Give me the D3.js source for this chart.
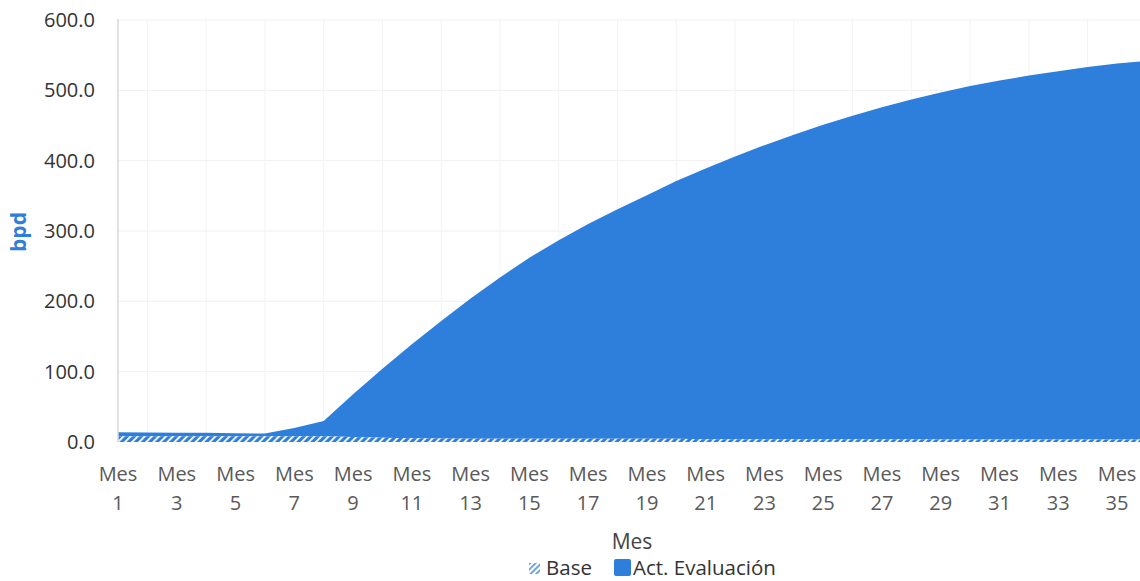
<!DOCTYPE html>
<html>
<head>
<meta charset="utf-8">
<script src="https://cdn.jsdelivr.net/npm/d3@7/dist/d3.min.js"></script>
<style>
  html, body { margin: 0; padding: 0; background: #fff; }
  svg { display: block; font-family: "Open Sans", "Noto Sans", sans-serif; }
</style>
</head>
<body>
<svg id="chart" width="1140" height="581"></svg>
<script>
// ---- data ----
const months = [1,2,3,4,5,6,7,8,9,10,11,12,13,14,15,16,17,18,19,20,21,22,23,24,25,26,27,28,29,30,31,32,33,34,35,36];
const baseValues = [8,8,8,8,8,8,8,8,7,6,5.5,5,4.5,4.5,4.5,4.5,4.5,4.5,4.5,4.5,4,4,4,4,4,4,4,4,3.5,3.5,3.5,3.5,3.5,3.5,3.5,3.5];
const actValues = [6,5.5,5,5,4.5,4,12,22,61,98,133.5,167,199.5,229.5,257.5,282.5,305.5,326.5,346.5,366.5,385,402,418,433,447,460,472,483,493.5,502.5,510.5,517.5,523.5,529.5,534.5,538.5];
const yTicks = [0,100,200,300,400,500,600];
const seriesNames = ["Base", "Act. Evaluación"];
const xTitle = "Mes";
const yTitle = "bpd";
const catPrefix = "Mes";

// ---- layout ----
const svg = d3.select("#chart");
const blue = "#2E7EDC";
const x = d3.scalePoint().domain(months).range([118, 1146.4]);
const y = d3.scaleLinear().domain([0, 600]).range([442, 20]);

const rows = months.map((m, i) => ({ m, base: baseValues[i], act: actValues[i] }));
const stack = d3.stack().keys(["base", "act"]);
const layers = stack(rows);

// pattern
const defs = svg.append("defs");
const pat = defs.append("pattern").attr("id", "hatch")
  .attr("patternUnits", "userSpaceOnUse").attr("width", 5).attr("height", 5)
  .attr("patternTransform", "rotate(45)");
pat.append("rect").attr("width", 5).attr("height", 5).attr("fill", blue);
pat.append("rect").attr("x", 0).attr("width", 1.8).attr("height", 5).attr("fill", "#ffffff");

const patL = defs.append("pattern").attr("id", "hatchLegend")
  .attr("patternUnits", "userSpaceOnUse").attr("width", 4).attr("height", 4)
  .attr("patternTransform", "rotate(45)");
patL.append("rect").attr("width", 4).attr("height", 4).attr("fill", "#ffffff");
patL.append("rect").attr("x", 0).attr("width", 2).attr("height", 4).attr("fill", "#6fa6e6");

// gridlines
const grid = svg.append("g");
grid.selectAll("line.h").data(yTicks.filter(d => d > 0)).join("line")
  .attr("x1", 118).attr("x2", 1140)
  .attr("y1", d => y(d)).attr("y2", d => y(d))
  .attr("stroke", "#f0f0f0").attr("stroke-width", 1);
grid.selectAll("line.v").data(months.filter(m => m % 2 === 0)).join("line")
  .attr("x1", d => x(d)).attr("x2", d => x(d))
  .attr("y1", 20).attr("y2", 442)
  .attr("stroke", "#f3f3f3").attr("stroke-width", 1);

// areas
const area = d3.area()
  .x(d => x(d.data.m))
  .y0(d => y(d[0]))
  .y1(d => y(d[1]));
svg.append("path").datum(layers[1]).attr("d", area).attr("fill", blue);
svg.append("path").datum(layers[0]).attr("d", area).attr("fill", "url(#hatch)");

// y axis line
svg.append("line").attr("x1", 118).attr("x2", 118).attr("y1", 19).attr("y2", 442)
  .attr("stroke", "#d9d9d9").attr("stroke-width", 1.5);

// y tick labels
svg.append("g").selectAll("text").data(yTicks).join("text")
  .attr("x", 95).attr("y", d => y(d)).attr("dy", "0.35em")
  .attr("text-anchor", "end").attr("font-size", 20).attr("fill", "#333")
  .text(d => d3.format(".1f")(d));

// x tick labels
const xl = svg.append("g").selectAll("text").data(months.filter(m => m % 2 === 1)).join("text")
  .attr("text-anchor", "middle").attr("font-size", 20).attr("fill", "#595959");
xl.append("tspan").attr("x", d => x(d)).attr("y", 481).text(catPrefix);
xl.append("tspan").attr("x", d => x(d)).attr("y", 510).text(d => d);

// axis titles
svg.append("text").attr("x", 632).attr("y", 549).attr("text-anchor", "middle")
  .attr("font-size", 21).attr("fill", "#444").text(xTitle);
svg.append("text").attr("transform", "translate(26,232) rotate(-90)")
  .attr("text-anchor", "middle").attr("font-size", 21).attr("font-weight", "bold")
  .attr("fill", blue).text(yTitle);

// legend
const lg = svg.append("g");
lg.append("rect").attr("x", 529).attr("y", 563).attr("width", 11).attr("height", 11).attr("fill", "url(#hatchLegend)");
lg.append("text").attr("x", 546).attr("y", 575).attr("font-size", 20.5).attr("fill", "#333").text(seriesNames[0]);
lg.append("rect").attr("x", 614).attr("y", 559).attr("width", 17).attr("height", 17).attr("rx", 2).attr("fill", blue);
lg.append("text").attr("x", 633).attr("y", 575).attr("font-size", 20.5).attr("fill", "#333").text(seriesNames[1]);
</script>
</body>
</html>
